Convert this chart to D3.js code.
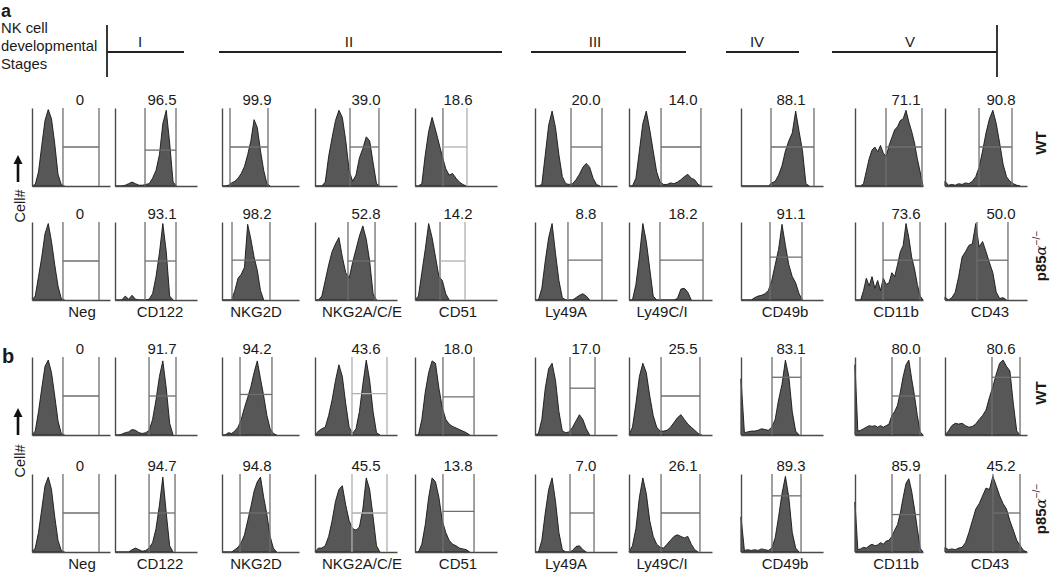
<!DOCTYPE html>
<html><head><meta charset="utf-8">
<script src="https://cdn.jsdelivr.net/npm/d3@7"></script>
<style>
body{margin:0;background:#fff;}
svg{display:block;}
text{font-family:"Liberation Sans",Arial,Helvetica,sans-serif;fill:#1a1a1a;}
</style>
</head><body>
<svg id="c" width="1050" height="582"></svg>
<script>
// ---------------- DATA ----------------
const markers = ["Neg","CD122","NKG2D","NKG2A/C/E","CD51","Ly49A","Ly49C/I","CD49b","CD11b","CD43"];
const stages = ["I","II","III","IV","V"];
const genotypes = ["WT","p85"];

const pctA_WT = ["0","96.5","99.9","39.0","18.6","20.0","14.0","88.1","71.1","90.8"];
const pctA_KO = ["0","93.1","98.2","52.8","14.2","8.8","18.2","91.1","73.6","50.0"];
const pctB_WT = ["0","91.7","94.2","43.6","18.0","17.0","25.5","83.1","80.0","80.6"];
const pctB_KO = ["0","94.7","94.8","45.5","13.8","7.0","26.1","89.3","85.9","45.2"];

// histogram bin heights (% of max), 25 bins across each panel's fluorescence range
const histA_WT = [
 [0,2,18,52,84,98,86,54,15,2,0],
 [0,0,0,1,3,5,3,1,1,2,3,10,20,40,80,97,55,5,0],
 [0,0,1,4,6,10,16,25,40,58,85,75,45,20,3,0],
 [0,0,0,5,38,62,84,97,88,58,20,6,14,36,48,63,58,30,3,0],
 [0,0,3,40,70,88,72,55,38,22,14,16,10,5,2,0],
 [0,0,2,40,78,96,75,40,12,3,2,3,8,15,24,29,24,10,2,0],
 [0,0,10,45,80,96,72,45,18,5,2,2,4,3,5,8,12,15,10,8,2,0],
 [0,0,0,0,0,0,0,0,0,4,6,14,26,45,58,68,96,70,45,3,0],
 [0,0,0,3,19,35,46,50,44,52,42,38,52,62,72,76,84,86,97,82,70,55,35,18,0],
 [6,1,2,1,3,2,4,3,6,12,24,45,68,86,97,80,55,28,12,6,3,1,0]
];
const histA_KO = [
 [0,5,30,55,85,98,75,45,18,2,0],
 [0,0,0,5,1,6,1,0,0,0,1,8,30,60,98,62,5,0],
 [0,0,0,0,12,28,33,42,97,78,55,38,12,0],
 [0,0,5,25,45,62,72,80,55,35,28,48,65,82,95,78,50,8,0],
 [0,5,35,65,98,80,55,30,25,8,0],
 [0,0,15,50,80,98,60,25,3,0,0,0,3,6,8,5,0],
 [0,0,20,55,98,75,40,5,0,0,0,0,0,0,2,14,15,10,0],
 [0,0,0,0,3,5,6,8,12,25,45,65,97,70,45,30,22,8,0],
 [0,0,0,12,28,18,30,15,25,12,28,20,22,35,30,45,62,70,98,80,55,40,20,5,0],
 [4,0,3,10,30,55,62,70,72,98,68,75,62,48,35,10,2,3,0]
];
const histB_WT = [
 [0,5,30,60,88,96,80,50,18,2,0],
 [0,0,1,3,4,7,6,3,2,3,6,20,45,75,95,60,15,0],
 [0,0,3,2,5,10,20,35,48,62,80,95,72,50,25,8,2,0],
 [0,5,8,10,25,45,70,90,75,40,10,2,8,30,65,96,70,30,3,0],
 [0,0,20,55,80,95,92,60,35,20,14,11,9,7,5,3,0],
 [0,2,20,60,85,92,70,30,5,3,4,10,18,26,20,8,0],
 [0,10,40,75,92,80,50,25,10,5,5,6,10,16,22,26,20,14,10,6,2,0],
 [72,3,4,5,5,6,8,7,6,10,20,45,65,96,75,30,5,0],
 [90,5,6,8,10,12,11,12,10,12,10,12,14,25,30,38,55,75,90,96,72,50,25,4,0],
 [0,5,12,15,14,15,12,10,11,14,20,25,32,48,62,78,92,96,88,82,40,5,0]
];
const histB_KO = [
 [0,5,25,55,85,96,80,45,15,2,0],
 [0,0,0,0,0,3,5,3,1,2,5,12,30,60,96,50,8,0],
 [0,0,0,0,3,6,12,22,40,58,78,90,96,70,48,20,5,0],
 [0,5,5,8,20,40,65,80,85,60,40,30,28,32,55,95,80,45,8,0],
 [0,0,10,35,70,95,90,70,40,25,15,10,8,5,4,3,0],
 [0,0,15,50,80,95,65,25,3,0,0,2,7,8,3,0],
 [0,8,30,70,95,75,40,20,10,6,5,10,15,20,22,20,18,20,10,3,0],
 [45,2,3,2,3,2,4,3,2,5,18,45,75,97,70,25,5,0],
 [64,3,4,6,5,8,10,8,9,12,10,14,15,20,28,35,50,70,88,94,78,55,30,5,0],
 [6,3,4,3,5,6,12,25,40,55,62,72,82,80,97,85,72,62,55,40,28,15,8,2,0]
];

// gates: [left %, right %, marker level %] on each panel's scales
const gatesA_WT = [[39.7,85.9,50],[36.6,74.4,46],[10.4,59.7,50],[42.7,78,50],[34.1,63.4,50],[43.9,81.7,50],[38.6,86.7,50],[36.6,89,50],[45.6,98.5,50],[41.5,81.7,50]];
const gatesA_KO = [[39.7,85.9,50],[36.6,74.4,50],[13,62.3,51],[40.2,73.2,50],[30.5,61,50],[40.2,81.7,51],[37.3,89.2,51],[35.4,74.4,55],[41.2,95.6,51],[39,76.8,51]];
const gatesB_WT = [[39.7,85.9,50],[41.5,74.4,50],[23.4,64.9,52],[45.1,87.8,53],[34.1,72,49],[42.7,73.2,60],[38.6,85.5,50],[37.8,73.2,74],[54.4,95.6,50],[57.3,91.5,74]];
const gatesB_KO = [[39.7,85.9,50],[41.5,73.2,50],[23.4,62.3,50],[45.1,87.8,50],[34.1,72,52],[42.7,72,50],[38.6,85.5,50],[37.8,73.2,72],[54.4,95.6,48],[58.5,91.5,50]];

// ---------------- LAYOUT ----------------
const svg = d3.select("#c");
const colX = [32,115,222,315,415,535,629,741,855,945];
const colW = [78,82,77,82,82,82,83,82,68,82];
const rowTop = [108,222,357,474];
const panelH = 78;
const numX = [80,162,257,366,458,586,683,791,906,1001];
const labX = [82,160,256,362,458,566,662,785,896,990];
const lightPanels = {"0-4":1,"1-4":1,"2-3":2,"3-3":2};

const rows = [
  {hist: histA_WT, gates: gatesA_WT, pct: pctA_WT},
  {hist: histA_KO, gates: gatesA_KO, pct: pctA_KO},
  {hist: histB_WT, gates: gatesB_WT, pct: pctB_WT},
  {hist: histB_KO, gates: gatesB_KO, pct: pctB_KO}
];

rows.forEach((r, ri) => {
  r.hist.forEach((vals, ci) => {
    const g = svg.append("g");
    const x = d3.scaleLinear().domain([0, 24]).range([colX[ci], colX[ci] + colW[ci]]);
    const gx = d3.scaleLinear().domain([0, 100]).range([colX[ci], colX[ci] + colW[ci]]);
    const y = d3.scaleLinear().domain([0, 100]).range([rowTop[ri] + panelH, rowTop[ri]]);
    const area = d3.area().x((d, i) => x(i)).y0(y(0)).y1(d => y(d)).curve(d3.curveLinear);
    g.append("path").datum(vals).attr("d", area)
      .attr("fill", "#575757").attr("stroke", "#151515").attr("stroke-width", 0.9)
      .attr("stroke-linejoin", "round");
    // axes
    g.append("g").attr("transform", `translate(${colX[ci]},0)`)
      .call(d3.axisLeft(y).ticks(0).tickSizeOuter(0))
      .call(s => s.select(".domain").attr("stroke", "#4a4a4a").attr("stroke-width", 1.4));
    g.append("g").attr("transform", `translate(0,${y(0)})`)
      .call(d3.axisBottom(gx).ticks(0).tickSizeOuter(0))
      .call(s => s.select(".domain").attr("stroke", "#4a4a4a").attr("stroke-width", 1.4));
    // gates
    const gt = r.gates[ci];
    const lp = lightPanels[ri + "-" + ci] || 0;
    const dark = "#6e6e6e", light = "#b0b0b0";
    g.append("line").attr("x1", gx(gt[0])).attr("x2", gx(gt[0])).attr("y1", y(0)).attr("y2", y(100))
      .attr("stroke", lp === 2 ? light : dark).attr("stroke-width", 1.3);
    g.append("line").attr("x1", gx(gt[1])).attr("x2", gx(gt[1])).attr("y1", y(0)).attr("y2", y(100))
      .attr("stroke", lp ? light : dark).attr("stroke-width", 1.3);
    g.append("line").attr("x1", gx(gt[0])).attr("x2", gx(gt[1])).attr("y1", y(gt[2])).attr("y2", y(gt[2]))
      .attr("stroke", lp ? light : dark).attr("stroke-width", 1.3);
    // percentage
    g.append("text").attr("x", numX[ci]).attr("y", rowTop[ri] - 3)
      .attr("text-anchor", "middle").style("font-size", "15px").text(r.pct[ci]);
    // marker labels under the p85 rows
    if (ri === 1 || ri === 3) {
      g.append("text").attr("x", labX[ci]).attr("y", rowTop[ri] + panelH + 17)
        .attr("text-anchor", "middle").style("font-size", "15px").text(markers[ci]);
    }
  });
});

// genotype labels (rotated)
const genoY = [143, 256, 393, 509];
genoY.forEach((cy, i) => {
  const t = svg.append("text").attr("transform", `translate(1046,${cy}) rotate(-90)`)
    .attr("text-anchor", "middle").style("font-size", "15px").style("font-weight", "bold");
  if (i % 2 === 0) {
    t.text(genotypes[0]);
  } else {
    t.append("tspan").text(genotypes[1]);
    t.append("tspan").style("font-style", "italic").style("font-weight", "normal")
      .style("font-family", "'DejaVu Serif',serif").text("α");
    t.append("tspan").attr("dy", -6).style("font-size", "10px").style("font-weight", "normal").text("−/−");
  }
});

// Cell# axis labels with arrows
[{tip: 155, tail: 182, ty: 206}, {tip: 408, tail: 435, ty: 461}].forEach(a => {
  svg.append("line").attr("x1", 18).attr("x2", 18).attr("y1", a.tail).attr("y2", a.tip + 7)
    .attr("stroke", "#111").attr("stroke-width", 2.6);
  svg.append("path").attr("d", `M18,${a.tip} L13.5,${a.tip + 9} L22.5,${a.tip + 9} Z`).attr("fill", "#111");
  svg.append("text").attr("transform", `translate(25,${a.ty}) rotate(-90)`)
    .attr("text-anchor", "middle").style("font-size", "14.5px").text("Cell#");
});

// panel letters
svg.append("text").attr("x", 1).attr("y", 16.5).style("font-size", "18px").style("font-weight", "bold").text("a");
svg.append("text").attr("x", 2).attr("y", 363).style("font-size", "20px").style("font-weight", "bold").text("b");

// stage header
["NK cell", "developmental", "Stages"].forEach((s, i) => {
  svg.append("text").attr("x", 1).attr("y", [33, 51, 69][i]).style("font-size", "14.8px").text(s);
});
const stageSpan = [[107, 184, 140], [219, 502, 349], [531, 686, 595], [726, 799, 757], [832, 997, 910]];
const hdr = svg.append("g").attr("stroke", "#222").attr("stroke-width", 1.8);
hdr.append("line").attr("x1", 107).attr("x2", 107).attr("y1", 25).attr("y2", 77);
hdr.append("line").attr("x1", 997).attr("x2", 997).attr("y1", 25).attr("y2", 77);
stages.forEach((s, i) => {
  const sp = stageSpan[i];
  hdr.append("line").attr("x1", sp[0]).attr("x2", sp[1]).attr("y1", 52).attr("y2", 52);
  svg.append("text").attr("x", sp[2]).attr("y", 47).attr("text-anchor", "middle")
    .style("font-size", "15px").text(s);
});
</script>
</body></html>
